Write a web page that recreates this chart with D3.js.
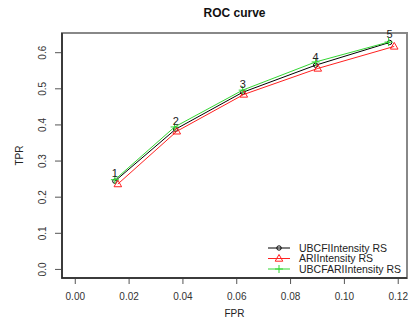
<!DOCTYPE html>
<html>
<head>
<meta charset="utf-8">
<script src="https://cdn.jsdelivr.net/npm/d3@7"></script>
<style>
  body { margin: 0; background: #fff; }
  svg { font-family: "Liberation Sans", Arial, sans-serif; }
</style>
</head>
<body>
<div id="roc"></div>
<script>
// ROC points (cut-offs 1..5)
const labels = ["1", "2", "3", "4", "5"];
const ubcfFpr = [0.0149, 0.0375, 0.0624, 0.0895, 0.1170];
const ubcfTpr = [0.243, 0.387, 0.489, 0.564, 0.627];
const ariFpr = [0.0160, 0.0379, 0.0628, 0.0903, 0.1187];
const ariTpr = [0.235, 0.381, 0.483, 0.555, 0.616];
const mixFpr = [0.0149, 0.0371, 0.0624, 0.0895, 0.1166];
const mixTpr = [0.247, 0.393, 0.495, 0.573, 0.628];
const seriesNames = ["UBCFIIntensity RS", "ARIIntensity RS", "UBCFARIIntensity RS"];
const xTicks = [0, 0.02, 0.04, 0.06, 0.08, 0.10, 0.12];
const yTicks = [0, 0.1, 0.2, 0.3, 0.4, 0.5, 0.6];

const W = 410, H = 320;
const mLeft = 62, mTop = 33, width = 345, height = 245;

const series = [
  {name: seriesNames[0], color: "#000000", shape: "circle", fpr: ubcfFpr, tpr: ubcfTpr},
  {name: seriesNames[1], color: "#ff2020", shape: "triangle", fpr: ariFpr, tpr: ariTpr},
  {name: seriesNames[2], color: "#33d633", shape: "plus", fpr: mixFpr, tpr: mixTpr}
];

// R style 4% padding around the data range
const xMax = d3.max(series, s => d3.max(s.fpr));
const yMax = d3.max(series, s => d3.max(s.tpr));
const x = d3.scaleLinear().domain([-0.04 * xMax, 1.04 * xMax]).range([0, width]);
const y = d3.scaleLinear().domain([-0.04 * yMax, 1.04 * yMax]).range([height, 0]);

const svg = d3.select("#roc").append("svg")
  .attr("width", W).attr("height", H);

svg.append("text")
  .attr("x", mLeft + width / 2).attr("y", 17)
  .attr("text-anchor", "middle")
  .style("font-size", "12px").style("font-weight", "bold").style("fill", "#111")
  .text("ROC curve");

const g = svg.append("g").attr("transform", `translate(${mLeft},${mTop})`);

// axes
const xAxis = g.append("g")
  .attr("transform", `translate(0,${height})`)
  .call(d3.axisBottom(x).tickValues(xTicks).tickSize(6).tickPadding(9).tickFormat(d3.format(".2f")));
xAxis.select(".domain").remove();
xAxis.selectAll("line").attr("stroke", "#555");
xAxis.selectAll("text").style("font-size", "10px").style("fill", "#333")
  .attr("dy", "0.71em");

const yAxis = g.append("g")
  .call(d3.axisLeft(y).tickValues(yTicks).tickSize(7).tickFormat(d3.format(".1f")));
yAxis.select(".domain").remove();
yAxis.selectAll("line").attr("stroke", "#555");
yAxis.selectAll("text")
  .attr("x", null).attr("dy", null)
  .attr("transform", "translate(-16,0) rotate(-90)")
  .attr("text-anchor", "middle")
  .style("font-size", "10px").style("fill", "#333");

// box
g.append("rect")
  .attr("width", width).attr("height", height)
  .attr("fill", "none").attr("stroke", "#888").attr("stroke-width", 2);
g.append("path")
  .attr("d", `M0,0V${height}H${width}`)
  .attr("fill", "none").attr("stroke", "#222").attr("stroke-width", 1.5);

// axis titles
svg.append("text")
  .attr("x", mLeft + width / 2).attr("y", 317)
  .attr("text-anchor", "middle")
  .style("font-size", "10px").style("fill", "#222")
  .text("FPR");
svg.append("text")
  .attr("transform", `translate(23,${mTop + height / 2}) rotate(-90)`)
  .attr("text-anchor", "middle")
  .style("font-size", "10px").style("fill", "#222")
  .text("TPR");

function marker(sel, shape, color) {
  if (shape === "circle") {
    sel.append("circle").attr("r", 2.2)
      .attr("fill", "none").attr("stroke", color).attr("stroke-width", 1);
  } else if (shape === "triangle") {
    sel.append("path").attr("d", "M0,-4L3.8,2.7L-3.8,2.7Z")
      .attr("fill", "none").attr("stroke", color).attr("stroke-width", 1);
  } else {
    sel.append("path").attr("d", "M-4,0H4M0,-4V4")
      .attr("fill", "none").attr("stroke", color).attr("stroke-width", 1);
  }
}

const line = d3.line().x(d => x(d[0])).y(d => y(d[1]));

// draw lines
series.forEach(s => {
  const pts = s.fpr.map((f, i) => [f, s.tpr[i]]);
  g.append("path")
    .datum(pts)
    .attr("d", line)
    .attr("fill", "none")
    .attr("stroke", s.color)
    .attr("stroke-width", 1);
  pts.forEach(p => {
    marker(g.append("g").attr("transform", `translate(${x(p[0])},${y(p[1])})`), s.shape, s.color);
  });
});

// cut-off labels above first series
labels.forEach((lb, i) => {
  g.append("text")
    .attr("x", x(ubcfFpr[i])).attr("y", y(ubcfTpr[i]) - 4)
    .attr("text-anchor", "middle")
    .style("font-size", "11px").style("fill", "#222")
    .text(lb);
});

// legend
const legend = svg.append("g").attr("transform", "translate(268,248)");
series.forEach((s, i) => {
  const row = legend.append("g").attr("transform", `translate(0,${i * 10.5})`);
  row.append("line").attr("x1", 0).attr("x2", 22)
    .attr("stroke", s.color).attr("stroke-width", 1);
  marker(row.append("g").attr("transform", "translate(11,0)"), s.shape, s.color);
  row.append("text")
    .attr("x", 31).attr("y", 3.7)
    .style("font-size", "10.5px").style("fill", "#222")
    .text(s.name);
});
</script>
</body>
</html>
